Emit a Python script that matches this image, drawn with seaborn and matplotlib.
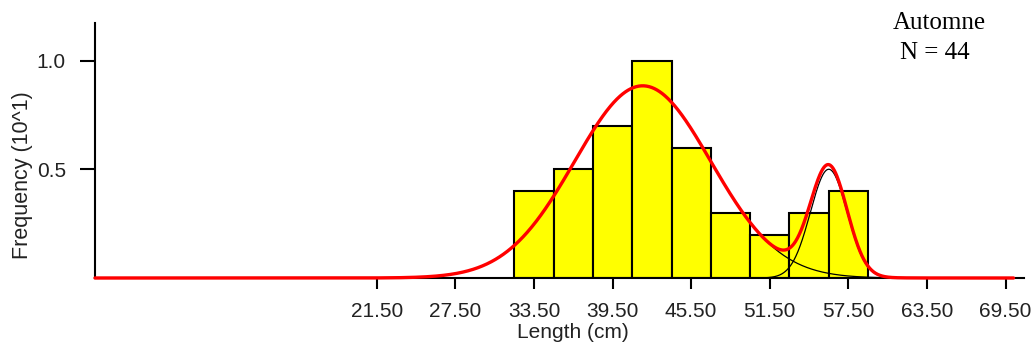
import numpy as np
import pandas as pd
import matplotlib
matplotlib.use("Agg")
import matplotlib.pyplot as plt
import seaborn as sns

# Length-frequency histogram (frequency in units of 10 fish, 3 cm classes)
bin_centers = [33.5, 36.5, 39.5, 42.5, 45.5, 48.5, 51.5, 54.5, 57.5]
freq = [0.4, 0.5, 0.7, 1.0, 0.6, 0.3, 0.2, 0.3, 0.4]
bin_width = 3.0
freq_unit = 10.0

# Fitted normal components (cohorts)
comp_means = [41.8, 56.0]
comp_sds = [5.2, 1.4]
comp_counts = [38.4, 5.85]
comp_ranges = [(24.1, 59.8), (51.0, 59.8)]
total_range = (0.0, 70.1)

xtick_values = [21.5, 27.5, 33.5, 39.5, 45.5, 51.5, 57.5, 63.5, 69.5]
ytick_values = [0.5, 1.0]
season = "Automne"
n_label = "N = 44"


def component(x, mean, sd, count):
    pdf = np.exp(-0.5 * ((x - mean) / sd) ** 2) / (sd * np.sqrt(2 * np.pi))
    return count * bin_width * pdf / freq_unit


sns.set_style("white")
plt.rcParams["font.family"] = ["Liberation Sans", "DejaVu Sans"]

W, H = 1036, 347
fig = plt.figure(figsize=(W / 100, H / 100), dpi=100)
ax = fig.add_axes([95 / W, 69 / H, 929 / W, 255.3 / H])

hist_df = pd.DataFrame({"length": bin_centers, "freq": freq})
sns.barplot(data=hist_df, x="length", y="freq", native_scale=True, width=1.0,
            color="#FFFF00", edgecolor="black", linewidth=1.5, saturation=1,
            ax=ax, zorder=2)

# Individual cohort curves
for mean, sd, count, (lo, hi) in zip(comp_means, comp_sds, comp_counts, comp_ranges):
    xs = np.linspace(lo, hi, 400)
    sns.lineplot(x=xs, y=component(xs, mean, sd, count), color="black",
                 linewidth=0.9, ax=ax, zorder=3)

# Sum of the cohorts
xs = np.linspace(total_range[0], total_range[1], 1400)
total = sum(component(xs, m, s, c) for m, s, c in zip(comp_means, comp_sds, comp_counts))
sns.lineplot(x=xs, y=total, color="#FF0000", linewidth=2.4, ax=ax, zorder=4)
for ln in ax.lines:
    ln.set_clip_on(False)

ax.set_xlim(0, 70.9)
ax.set_ylim(0, 1.174)
ax.set_xticks(xtick_values)
ax.set_xticklabels([f"{v:.2f}" for v in xtick_values])
ax.set_yticks(ytick_values)
ax.set_yticklabels([f"{v:.1f}" for v in ytick_values])
ax.set_xlabel("")
ax.set_ylabel("")

for side in ["top", "right"]:
    ax.spines[side].set_visible(False)
for side in ["left", "bottom"]:
    ax.spines[side].set_color("black")
    ax.spines[side].set_linewidth(1.5)

ax.tick_params(axis="x", direction="out", length=8, width=1.5, labelsize=15,
               pad=9, colors="black", bottom=True)
ax.tick_params(axis="y", direction="out", length=11, width=1.5, labelsize=15,
               pad=10, colors="black", left=True)
for lab in ax.get_xticklabels() + ax.get_yticklabels():
    lab.set_color("#222222")

fig.text(573 / W, 1 - 333 / H, "Length (cm)", ha="center", va="center",
         fontsize=15, color="#222222")
fig.text(23 / W, 1 - 175 / H, "Frequency (10^1)", ha="center", va="center",
         rotation=90, fontsize=15.5, color="#222222")

fig.text(939 / W, 1 - 23 / H, season, ha="center", va="center",
         family=["Liberation Serif", "DejaVu Serif"], fontsize=18, color="black")
fig.text(935 / W, 1 - 53 / H, n_label, ha="center", va="center",
         family=["Liberation Serif", "DejaVu Serif"], fontsize=18, color="black")

fig.savefig("out.png", dpi=100, facecolor="white")
